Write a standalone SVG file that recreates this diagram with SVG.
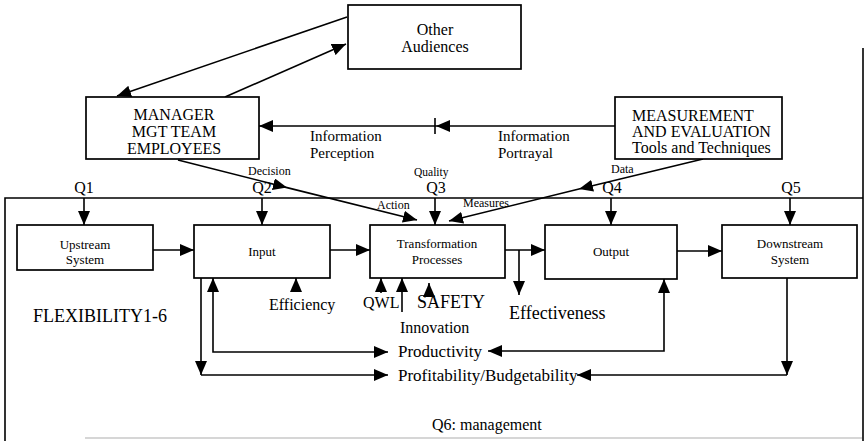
<svg xmlns="http://www.w3.org/2000/svg" width="865" height="441" viewBox="0 0 865 441">
  <style>
    .box { fill: #fff; stroke: #000; stroke-width: 1.7; }
    .ln { fill: none; stroke: #000; stroke-width: 1.6; }
    .t { font-family: "Liberation Serif", "Times New Roman", serif; fill: #000; }
    .c { text-anchor: middle; }
    .s16 { font-size: 16px; }
    .s15 { font-size: 15px; }
    .s13 { font-size: 13px; }
    .s12 { font-size: 12px; }
    .s11 { font-size: 11.5px; }
    .s17 { font-size: 17px; }
    .s18 { font-size: 18px; }
  </style>
  <defs>
    <marker id="ah" viewBox="0 0 14 12" refX="14" refY="6" markerWidth="14" markerHeight="12" markerUnits="userSpaceOnUse" orient="auto-start-reverse">
      <path d="M0,0 L14,6 L0,12 z" fill="#000"/>
    </marker>
  </defs>

  <rect width="865" height="441" fill="#fff"/>

  <!-- organisation frame -->
  <g id="frame">
    <path class="ln" d="M5,441 V198 H863"/>
    <path class="ln" d="M863,48 V441"/>
    <line x1="85" y1="438" x2="862" y2="438" stroke="#c8c8c8" stroke-width="1.5"/>
  </g>

  <g id="connectors">
    <!-- manager / other audiences -->
    <line class="ln" x1="347" y1="17" x2="117" y2="96" marker-end="url(#ah)"/>
    <line class="ln" x1="225" y1="97" x2="346" y2="44" marker-end="url(#ah)"/>
    <!-- information flow -->
    <polyline class="ln" points="615,126 436,126 259,126" marker-mid="url(#ah)" marker-end="url(#ah)"/>
    <line class="ln" x1="435" y1="118" x2="435" y2="134"/>
    <!-- decision / action -->
    <polyline class="ln" points="178,160 287,187.6 417,220" marker-mid="url(#ah)" marker-end="url(#ah)"/>
    <!-- data / measures -->
    <polyline class="ln" points="703,159 579,189 449,221" marker-mid="url(#ah)" marker-end="url(#ah)"/>
    <!-- Q1..Q5 -->
    <line class="ln" x1="84" y1="198" x2="84" y2="225" marker-end="url(#ah)"/>
    <line class="ln" x1="262" y1="198" x2="262" y2="225" marker-end="url(#ah)"/>
    <line class="ln" x1="435" y1="198" x2="435" y2="225" marker-end="url(#ah)"/>
    <line class="ln" x1="611" y1="198" x2="611" y2="225" marker-end="url(#ah)"/>
    <line class="ln" x1="790" y1="198" x2="790" y2="225" marker-end="url(#ah)"/>
    <!-- main chain -->
    <line class="ln" x1="153" y1="250" x2="194" y2="250" marker-end="url(#ah)"/>
    <line class="ln" x1="330" y1="250" x2="370" y2="250" marker-end="url(#ah)"/>
    <line class="ln" x1="505" y1="250" x2="545" y2="250" marker-end="url(#ah)"/>
    <line class="ln" x1="677" y1="251" x2="722" y2="251" marker-end="url(#ah)"/>
    <!-- effectiveness -->
    <line class="ln" x1="519" y1="250" x2="519" y2="295" marker-end="url(#ah)"/>
    <!-- efficiency, QWL, innovation, safety -->
    <line class="ln" x1="296" y1="292" x2="296" y2="278" marker-end="url(#ah)"/>
    <line class="ln" x1="381" y1="293" x2="381" y2="278" marker-end="url(#ah)"/>
    <line class="ln" x1="402" y1="312" x2="402" y2="278" marker-end="url(#ah)"/>
    <line class="ln" x1="429" y1="297" x2="429" y2="283" marker-end="url(#ah)"/>
    <!-- productivity loop -->
    <polyline class="ln" points="213,278 213,352 388,352" marker-start="url(#ah)" marker-end="url(#ah)"/>
    <polyline class="ln" points="664,279 664,351 488,351" marker-start="url(#ah)" marker-end="url(#ah)"/>
    <!-- profitability loop -->
    <line class="ln" x1="201" y1="278" x2="201" y2="375" marker-end="url(#ah)"/>
    <line class="ln" x1="201" y1="375" x2="388" y2="375" marker-end="url(#ah)"/>
    <line class="ln" x1="787" y1="278" x2="787" y2="375" marker-end="url(#ah)"/>
    <line class="ln" x1="787" y1="375" x2="577" y2="375" marker-end="url(#ah)"/>
  </g>

  <g id="other-audiences">
    <rect class="box" x="348" y="5" width="173" height="64"/>
    <text class="t c s16" x="435" y="35">Other</text>
    <text class="t c s16" x="435" y="52">Audiences</text>
  </g>

  <g id="manager">
    <rect class="box" x="86" y="97" width="173" height="62"/>
    <text class="t c s16" x="174" y="120">MANAGER</text>
    <text class="t c s16" x="174" y="137">MGT TEAM</text>
    <text class="t c s16" x="174" y="154">EMPLOYEES</text>
  </g>

  <g id="measurement">
    <rect class="box" x="615" y="97" width="167" height="62"/>
    <text class="t s16" x="632" y="121">MEASUREMENT</text>
    <text class="t s16" x="632" y="137">AND EVALUATION</text>
    <text class="t s16" x="632" y="153">Tools and Techniques</text>
  </g>

  <g id="upstream">
    <rect class="box" x="17" y="225" width="136" height="45"/>
    <text class="t c s13" x="85" y="249">Upstream</text>
    <text class="t c s13" x="85" y="264">System</text>
  </g>

  <g id="input">
    <rect class="box" x="194" y="225" width="136" height="53"/>
    <text class="t c s13" x="262" y="256">Input</text>
  </g>

  <g id="transformation">
    <rect class="box" x="370" y="225" width="135" height="53"/>
    <text class="t c s13" x="437" y="248">Transformation</text>
    <text class="t c s13" x="437" y="264">Processes</text>
  </g>

  <g id="output">
    <rect class="box" x="545" y="225" width="132" height="54"/>
    <text class="t c s13" x="611" y="256">Output</text>
  </g>

  <g id="downstream">
    <rect class="box" x="722" y="225" width="135" height="53"/>
    <text class="t c s13" x="790" y="248">Downstream</text>
    <text class="t c s13" x="790" y="264">System</text>
  </g>

  <g id="labels">
    <text class="t s15" x="310" y="141">Information</text>
    <text class="t s15" x="310" y="158">Perception</text>
    <text class="t s15" x="498" y="141">Information</text>
    <text class="t s15" x="498" y="158">Portrayal</text>
    <text class="t s12" x="248" y="175">Decision</text>
    <text class="t s11" x="414" y="176">Quality</text>
    <text class="t s12" x="611" y="173">Data</text>
    <text class="t s12" x="377" y="209">Action</text>
    <text class="t s12" x="463" y="207">Measures</text>
    <text class="t c s16" x="84" y="193">Q1</text>
    <text class="t c s16" x="262" y="193">Q2</text>
    <text class="t c s16" x="436" y="193">Q3</text>
    <text class="t c s16" x="612" y="193">Q4</text>
    <text class="t c s16" x="791" y="193">Q5</text>
    <text class="t s16" x="269" y="310">Efficiency</text>
    <text class="t s16" x="363" y="308">QWL</text>
    <text class="t s18" x="417" y="308">SAFETY</text>
    <text class="t s16" x="400" y="333">Innovation</text>
    <text class="t s18" x="509" y="319">Effectiveness</text>
    <text class="t s18" x="33" y="322">FLEXIBILITY1-6</text>
    <text class="t s17" x="398" y="357">Productivity</text>
    <text class="t s17" x="398" y="381">Profitability/Budgetability</text>
    <text class="t s16" x="432" y="430">Q6: management</text>
  </g>
</svg>
